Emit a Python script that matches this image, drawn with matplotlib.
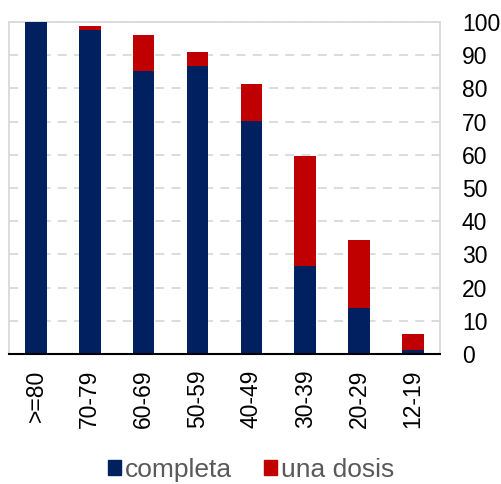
import numpy as np
import matplotlib.pyplot as plt
from matplotlib.patches import Patch

plt.rcParams['font.family'] = ['Liberation Sans', 'DejaVu Sans']

grupos = [">=80", "70-79", "60-69", "50-59", "40-49", "30-39", "20-29", "12-19"]
completa = [100.0, 97.7, 85.2, 86.7, 70.1, 26.5, 13.9, 1.3]
una_dosis = [0.0, 1.1, 10.9, 4.4, 11.2, 33.1, 20.3, 4.7]

azul = "#002060"
rojo = "#C00000"

fig = plt.figure(figsize=(5.02, 4.84), dpi=100)
ax = fig.add_axes([0.018, 0.2686, 0.858, 0.6859])

x = np.arange(len(grupos))
ax.bar(x, completa, width=0.4, color=azul, linewidth=0, zorder=3)
ax.bar(x, una_dosis, width=0.4, bottom=completa, color=rojo, linewidth=0, zorder=3)

ax.set_xlim(-0.5, len(grupos) - 0.5)
ax.set_ylim(0, 100)
ax.set_yticks(range(0, 101, 10))
ax.yaxis.tick_right()
ax.tick_params(axis="y", length=0, pad=16, labelsize=16.5)
ax.tick_params(axis="x", length=0, pad=11, labelsize=16.5)
ax.set_xticks(x)
ax.set_xticklabels(grupos, rotation=90)

ax.grid(axis="y", color="#d9d9d9", linestyle=(0, (5, 4)), linewidth=1.3, zorder=0)
for lado in ["left", "top", "right"]:
    ax.spines[lado].set_color("#d9d9d9")
    ax.spines[lado].set_linewidth(1.3)
ax.spines["bottom"].set_color("black")
ax.spines["bottom"].set_linewidth(1.5)
ax.spines["bottom"].set_zorder(4)

handles = [Patch(color=azul, label="completa"), Patch(color=rojo, label="una dosis")]
leg = fig.legend(handles=handles, loc="center", bbox_to_anchor=(0.5, 0.029), ncol=2,
                 frameon=False, fontsize=19, handlelength=0.5, handleheight=0.5,
                 handletextpad=0.15, columnspacing=1.2)
for t in leg.get_texts():
    t.set_color("#595959")

fig.savefig("out.png", dpi=100)
